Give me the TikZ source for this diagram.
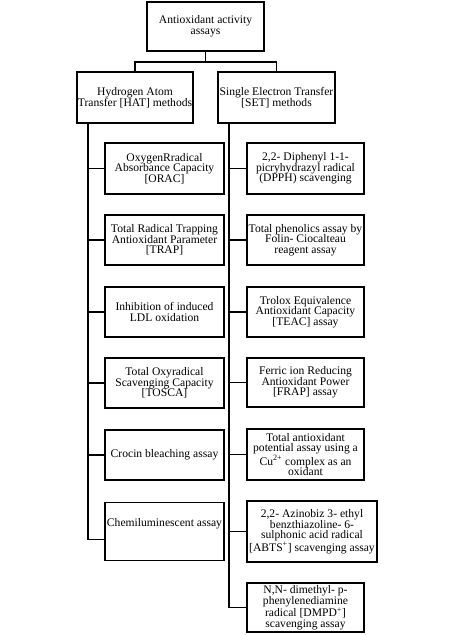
\documentclass[tikz,border=0pt]{standalone}
\usepackage{fontspec}
\setmainfont{Liberation Serif}
\begin{document}
\begin{tikzpicture}[x=1pt,y=-1pt,
  box/.style={draw,line width=1.2pt,align=center,inner sep=0pt,
    font=\fontsize{11.6}{10.7}\selectfont},
  conn/.style={line width=1.2pt}]
\useasboundingbox (0,0) rectangle (452,635);
% top
\node[box,minimum width=117pt,minimum height=49pt] (top) at (205.5,26.5) {Antioxidant activity\\assays};
\node[box,minimum width=116pt,minimum height=51pt] (hat) at (135,97.5) {Hydrogen Atom\\Transfer [HAT] methods};
\node[box,minimum width=117pt,minimum height=51pt] (set) at (276.5,97.5) {Single Electron Transfer\\{}[SET] methods};
% left column
\node[box,minimum width=119pt,minimum height=51pt] (orac) at (164.5,168.5) {OxygenRradical\\Absorbance Capacity\\{}[ORAC]};
\node[box,minimum width=119pt,minimum height=50pt] (trap) at (164.5,240) {Total Radical Trapping\\Antioxidant Parameter\\{}[TRAP]};
\node[box,minimum width=119pt,minimum height=50pt] (ldl) at (164.5,312) {Inhibition of induced\\LDL oxidation};
\node[box,minimum width=119pt,minimum height=50pt] (tosca) at (164.5,383) {Total Oxyradical\\Scavenging Capacity\\{}[TOSCA]};
\node[box,minimum width=119pt,minimum height=50pt] (crocin) at (164.5,455) {Crocin bleaching assay};
\node[box,minimum width=119pt,text height=24pt,text depth=34pt,anchor=north] (chemi) at (164.5,502) {Chemiluminescent assay};
% right column
\node[box,minimum width=117pt,minimum height=51pt] (dpph) at (305.5,168.5) {2,2- Diphenyl 1-1-\\picryhydrazyl radical\\(DPPH) scavenging};
\node[box,minimum width=117pt,minimum height=50pt] (folin) at (305.5,240) {Total phenolics assay by\\Folin- Ciocalteau\\reagent assay};
\node[box,minimum width=117pt,minimum height=50pt] (teac) at (305.5,312) {Trolox Equivalence\\Antioxidant Capacity\\{}[TEAC] assay};
\node[box,minimum width=117pt,minimum height=49pt] (frap) at (305.5,382.5) {Ferric ion Reducing\\Antioxidant Power\\{}[FRAP] assay};
\node[box,minimum width=117pt,minimum height=51pt] (cu) at (305.5,454.5) {Total antioxidant\\potential assay using a\\Cu\textsuperscript{2+} complex as an\\oxidant};
\node[box,minimum width=130pt,minimum height=61pt] (abts) at (312,531.5) {2,2- Azinobiz 3- ethyl\\benzthiazoline- 6-\\sulphonic acid radical\\{}[ABTS\textsuperscript{+}] scavenging assay};
\node[box,minimum width=117pt,minimum height=49pt] (dmpd) at (305.5,607.5) {N,N- dimethyl- p-\\phenylenediamine\\radical [DMPD\textsuperscript{+}]\\scavenging assay};
% connectors top
\coordinate (j) at (205.5,62);
\draw[conn] (top.south) -- (j);
\draw[conn] (hat.north) |- (j) -| (set.north);
% left trunk
\coordinate (lt) at (88,123);
\draw[conn] (lt) |- ([yshift=-8pt]chemi.west);
\foreach \n in {orac,trap,ldl,tosca,crocin} \draw[conn] (lt) |- (\n.west);
% right trunk
\coordinate (rt) at (229,123);
\draw[conn] (rt) |- (dmpd.west);
\foreach \n in {dpph,folin,teac,frap,cu,abts} \draw[conn] (rt) |- (\n.west);
\end{tikzpicture}
\end{document}
